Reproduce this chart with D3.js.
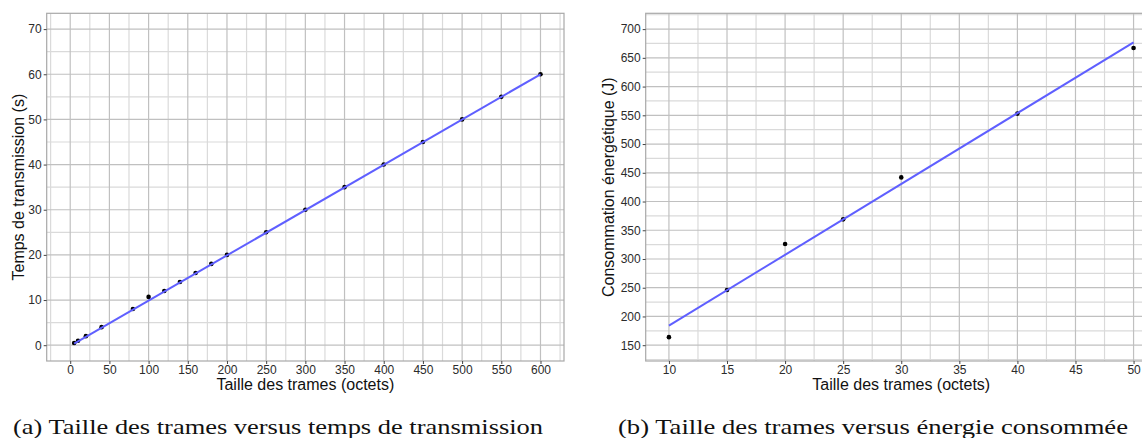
<!DOCTYPE html>
<html><head><meta charset="utf-8">
<script src="https://cdn.jsdelivr.net/npm/d3@7"></script>
<style>html,body{margin:0;padding:0;background:#fff;overflow:hidden}</style>
</head><body>
<svg id="c" width="1142" height="438"></svg>
<script>
// Panel (a): frame size vs transmission time
const sizeA = [5, 10, 20, 40, 80, 100, 120, 140, 160, 180, 200, 250, 300, 350, 400, 450, 500, 550, 600];
const timeA = [0.5, 1, 2, 4, 8, 10.7, 12, 14, 16, 18, 20, 25, 30, 35, 40, 45, 50, 55, 60];
const fitXA = [5, 600];
const fitYA = [0.35, 60.0];
const xTicksA = [0, 50, 100, 150, 200, 250, 300, 350, 400, 450, 500, 550, 600];
const yTicksA = [0, 10, 20, 30, 40, 50, 60, 70];
// Panel (b): frame size vs energy consumed
const sizeB = [10, 15, 20, 25, 30, 40, 50];
const energyB = [164, 246, 326, 369, 442, 553, 667];
const fitXB = [10, 50];
const fitYB = [184, 677];
const xTicksB = [10, 15, 20, 25, 30, 35, 40, 45, 50];
const yTicksB = [150, 200, 250, 300, 350, 400, 450, 500, 550, 600, 650, 700];

const xTitle = "Taille des trames (octets)";
const yTitleA = "Temps de transmission (s)";
const yTitleB = "Consommation énergétique (J)";
const captionA = "(a) Taille des trames versus temps de transmission";
const captionB = "(b) Taille des trames versus énergie consommée";

const svg = d3.select("#c");
const FONT = "'Liberation Sans', Arial, Helvetica, sans-serif";
const SERIF = "'Liberation Serif', 'Times New Roman', serif";

function panel(o) {
  const g = svg.append("g");
  const x = d3.scaleLinear().domain(o.xDom).range([o.left, o.right]);
  const y = d3.scaleLinear().domain(o.yDom).range([o.bottom, o.top]);
  const clipId = "clip" + o.id;
  svg.append("clipPath").attr("id", clipId).append("rect")
    .attr("x", o.left).attr("y", o.top).attr("width", o.right - o.left).attr("height", o.bottom - o.top);
  const inner = g.append("g").attr("clip-path", `url(#${clipId})`);
  const xMinor = [], yMinor = [];
  const xs = o.xTicks, ys = o.yTicks;
  const dx = xs[1] - xs[0], dy = ys[1] - ys[0];
  for (let v = xs[0] - dx / 2; v <= xs[xs.length - 1] + dx; v += dx) xMinor.push(v);
  for (let v = ys[0] - dy / 2; v <= ys[ys.length - 1] + dy; v += dy) yMinor.push(v);
  inner.selectAll(".xm").data(xMinor).join("line")
    .attr("x1", d => x(d)).attr("x2", d => x(d)).attr("y1", o.top).attr("y2", o.bottom)
    .attr("stroke", "#dadada").attr("stroke-width", 1.2);
  inner.selectAll(".ym").data(yMinor).join("line")
    .attr("y1", d => y(d)).attr("y2", d => y(d)).attr("x1", o.left).attr("x2", o.right)
    .attr("stroke", "#dadada").attr("stroke-width", 1.2);
  inner.selectAll(".xM").data(xs).join("line")
    .attr("x1", d => x(d)).attr("x2", d => x(d)).attr("y1", o.top).attr("y2", o.bottom)
    .attr("stroke", "#c0c0c0").attr("stroke-width", 1.2);
  inner.selectAll(".yM").data(ys).join("line")
    .attr("y1", d => y(d)).attr("y2", d => y(d)).attr("x1", o.left).attr("x2", o.right)
    .attr("stroke", "#c0c0c0").attr("stroke-width", 1.2);
  g.append("rect").attr("x", o.left).attr("y", o.top)
    .attr("width", o.right - o.left).attr("height", o.bottom - o.top)
    .attr("fill", "none").attr("stroke", "#a8a8a8").attr("stroke-width", 1.2);
  const ax = g.append("g").attr("transform", `translate(0,${o.bottom})`)
    .call(d3.axisBottom(x).tickValues(xs).tickSize(3).tickPadding(1.5));
  const ay = g.append("g").attr("transform", `translate(${o.left},0)`)
    .call(d3.axisLeft(y).tickValues(ys).tickSize(3).tickPadding(2));
  [ax, ay].forEach(a => {
    a.select(".domain").remove();
    a.selectAll(".tick line").attr("stroke", "#444");
    a.selectAll(".tick text").attr("fill", "#2b2b2b").style("font-family", FONT).style("font-size", "12px");
  });
  inner.selectAll(".pt").data(o.xv.map((d, i) => [d, o.yv[i]])).join("circle")
    .attr("cx", d => x(d[0])).attr("cy", d => y(d[1])).attr("r", 2.3).attr("fill", "#000");
  inner.append("path").datum(o.fx.map((d, i) => [d, o.fy[i]]))
    .attr("d", d3.line().x(d => x(d[0])).y(d => y(d[1])))
    .attr("fill", "none").attr("stroke", "#5f5fff").attr("stroke-width", 2);
  g.append("text").attr("x", (o.left + o.right) / 2).attr("y", 389.5)
    .attr("text-anchor", "middle").style("font-family", FONT).style("font-size", "16px")
    .attr("fill", "#111").text(xTitle);
  g.append("text").attr("transform", `translate(${o.yTitleX},${(o.top + o.bottom) / 2}) rotate(-90)`)
    .attr("text-anchor", "middle").style("font-family", FONT).style("font-size", "16px")
    .attr("fill", "#111").text(o.yTitle);
  g.append("text").attr("x", o.capX).attr("y", 434)
    .style("font-family", SERIF).style("font-size", "21px")
    .attr("fill", "#111").attr("textLength", o.capW).attr("lengthAdjust", "spacingAndGlyphs")
    .text(o.caption);
}

panel({id: "a", left: 46.7, right: 564, top: 13.3, bottom: 361,
  xDom: [-30, 630], yDom: [-3.5, 73.5], xTicks: xTicksA, yTicks: yTicksA,
  xv: sizeA, yv: timeA, fx: fitXA, fy: fitYA,
  yTitle: yTitleA, yTitleX: 24, caption: captionA, capX: 13, capW: 530});
panel({id: "b", left: 645.7, right: 1156.8, top: 13.3, bottom: 361,
  xDom: [8, 52], yDom: [122.5, 727.5], xTicks: xTicksB, yTicks: yTicksB,
  xv: sizeB, yv: energyB, fx: fitXB, fy: fitYB,
  yTitle: yTitleB, yTitleX: 614, caption: captionB, capX: 618, capW: 510});
</script>
</body></html>
